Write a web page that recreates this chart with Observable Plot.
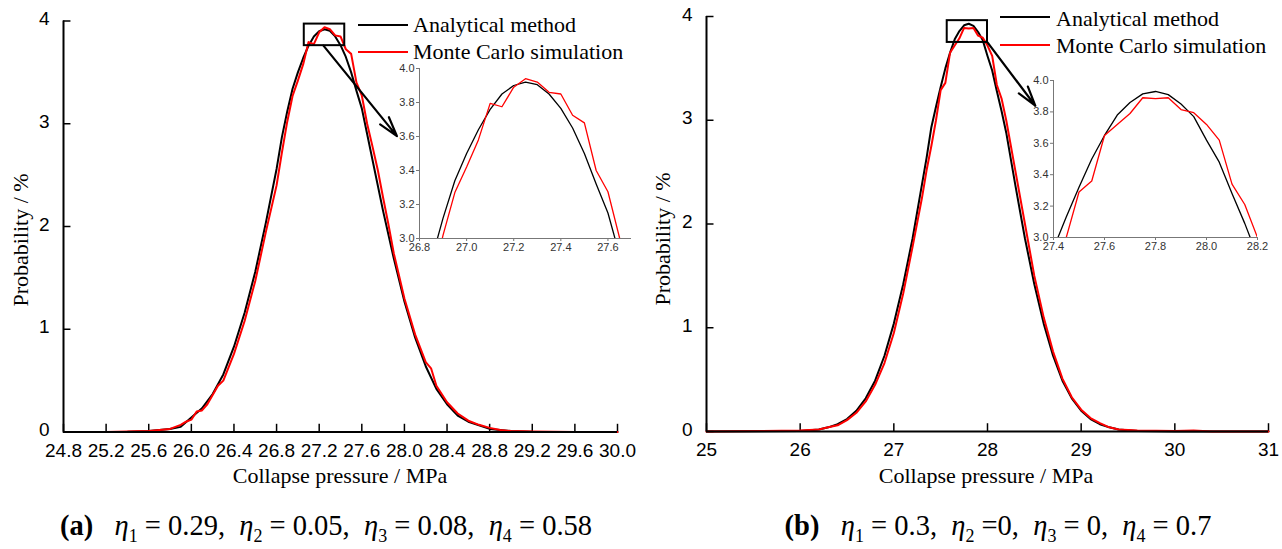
<!DOCTYPE html>
<html><head><meta charset="utf-8">
<script src="https://cdn.jsdelivr.net/npm/d3@7"></script>
<script src="https://cdn.jsdelivr.net/npm/@observablehq/plot@0.6"></script>
<style>
body{margin:0;background:#fff;}
#root{position:relative;width:1282px;height:549px;overflow:hidden;font-family:"Liberation Serif","Times New Roman",serif;color:#000;}
#root svg{position:absolute;overflow:visible;}
.t{position:absolute;white-space:nowrap;line-height:1;}
.leg{font-size:22px;}
.ttl{font-size:22px;}
.cap{font-size:28.5px;}
.cap sub{font-size:18px;vertical-align:-7px;line-height:0;}
.ln{position:absolute;height:2px;}
</style></head><body><div id="root"></div>
<script>
// ---------- DATA ----------
// Panel (a)
const aAnalyticX = [24.8,25.0,25.2,25.4,25.6,25.8,25.9,26.0,26.1,26.2,26.3,26.4,26.5,26.6,26.7,26.8,26.85,26.9,26.95,27.0,27.05,27.1,27.15,27.2,27.25,27.3,27.35,27.4,27.45,27.5,27.55,27.6,27.65,27.7,27.8,27.9,28.0,28.1,28.2,28.3,28.4,28.5,28.6,28.8,29.0,29.2,29.6,30.0];
const aAnalyticY = [0,0,0,0.002,0.01,0.03,0.05,0.14,0.23,0.37,0.56,0.83,1.16,1.56,2.04,2.56,2.87,3.12,3.34,3.50,3.64,3.76,3.85,3.90,3.92,3.905,3.85,3.765,3.65,3.50,3.32,3.15,2.90,2.65,2.15,1.69,1.27,0.92,0.64,0.42,0.27,0.16,0.10,0.03,0.01,0.003,0,0];
const aMonteX = [25.0,25.2,25.4,25.6,25.8,25.9,25.95,26.0,26.05,26.1,26.15,26.2,26.25,26.3,26.4,26.5,26.6,26.7,26.8,26.85,26.9,26.95,27.0,27.05,27.1,27.15,27.2,27.25,27.3,27.35,27.4,27.45,27.5,27.55,27.6,27.65,27.7,27.75,27.8,27.85,27.9,28.0,28.1,28.2,28.25,28.3,28.4,28.5,28.6,28.7,28.8,28.9,29.0,29.2,29.6,30.0];
const aMonteY = [0,0,0.005,0.01,0.03,0.07,0.10,0.12,0.20,0.21,0.27,0.36,0.45,0.50,0.76,1.08,1.47,1.95,2.40,2.72,3.02,3.27,3.42,3.58,3.795,3.775,3.89,3.94,3.92,3.86,3.85,3.725,3.68,3.40,3.275,3.0,2.78,2.55,2.28,2.02,1.74,1.30,0.95,0.68,0.62,0.45,0.29,0.18,0.11,0.07,0.04,0.02,0.01,0.005,0,0];
// Panel (b)
const bAnalyticX = [25.0,26.0,26.2,26.3,26.4,26.5,26.6,26.7,26.8,26.9,27.0,27.1,27.2,27.3,27.35,27.4,27.45,27.5,27.55,27.6,27.65,27.7,27.75,27.8,27.85,27.9,27.95,28.0,28.05,28.1,28.15,28.2,28.3,28.4,28.5,28.6,28.7,28.8,28.9,29.0,29.1,29.2,29.3,29.4,29.6,30.0,31.0];
const bAnalyticY = [0,0.005,0.02,0.04,0.07,0.12,0.20,0.32,0.49,0.73,1.04,1.42,1.86,2.38,2.64,2.93,3.13,3.32,3.50,3.65,3.78,3.86,3.915,3.93,3.91,3.85,3.77,3.62,3.48,3.28,3.09,2.88,2.36,1.86,1.42,1.04,0.73,0.49,0.32,0.20,0.12,0.07,0.04,0.02,0.005,0,0];
const bMonteX = [25.0,25.6,26.0,26.2,26.3,26.4,26.5,26.6,26.7,26.8,26.9,27.0,27.1,27.2,27.3,27.35,27.4,27.45,27.5,27.55,27.6,27.65,27.7,27.75,27.8,27.85,27.9,27.95,28.0,28.05,28.1,28.15,28.2,28.3,28.4,28.5,28.6,28.7,28.8,28.9,29.0,29.1,29.2,29.3,29.4,29.6,30.0,30.2,30.4,31.0];
const bMonteY = [0,0.005,0.01,0.02,0.04,0.06,0.11,0.18,0.29,0.45,0.66,0.95,1.33,1.78,2.25,2.52,2.75,3.0,3.29,3.36,3.65,3.72,3.79,3.89,3.885,3.89,3.815,3.795,3.72,3.62,3.34,3.21,3.0,2.50,2.0,1.50,1.10,0.77,0.51,0.33,0.21,0.13,0.08,0.04,0.02,0.01,0.005,0.01,0,0];

// Axes / ticks
const yTicks = [0,1,2,3,4];
const aXTicks = [24.8,25.2,25.6,26.0,26.4,26.8,27.2,27.6,28.0,28.4,28.8,29.2,29.6,30.0];
const bXTicks = [25,26,27,28,29,30,31];
const aInsetXTicks = [26.8,27.0,27.2,27.4,27.6];
const bInsetXTicks = [27.4,27.6,27.8,28.0,28.2];
const insetYTicks = [3.0,3.2,3.4,3.6,3.8,4.0];
// Zoom boxes and arrows (data units)
const aBox = [{x1:27.06,x2:27.44,y1:3.76,y2:3.97}];
const bBox = [{x1:27.57,x2:28.0,y1:3.75,y2:3.96}];
const aArrow = [{x1:27.24,y1:3.76,x2:27.93,y2:2.88}];
const bArrow = [{x1:28.0,y1:3.75,x2:28.51,y2:3.14}];
// Texts
const seriesNames = ["Analytical method","Monte Carlo simulation"];
const xTitle = "Collapse pressure / MPa";
const yTitle = "Probability / %";

// ---------- BUILD ----------
const root = document.getElementById("root");
const tbl = (xs, ys) => xs.map((x,i)=>({x, y: ys[i]}));

function mainPlot(o){
  const x0 = o.xDomain[0];
  const svg = Plot.plot({
    width:o.width, height:490,
    marginLeft:o.mL, marginRight:o.mR, marginTop:o.mT, marginBottom:o.mB,
    x:{domain:o.xDomain}, y:{domain:[0,4]},
    style:{fontFamily:"'Liberation Sans', Arial, sans-serif", fontSize:"19px", background:"transparent", color:"#000"},
    marks:[
      Plot.axisX(o.xTicks,{tickFormat:o.fmt, tickSize:0, tickPadding:11, fontSize:19, fill:"#000", label:null}),
      Plot.axisY(yTicks,{tickFormat:d=>String(d), tickSize:0, tickPadding:14, dy:-2, fontSize:19, fill:"#000", label:null}),
      Plot.ruleX(o.xTicks,{x:d=>d, y1:0, y2:o.tx, stroke:"#000", strokeWidth:1.5}),
      Plot.ruleY(yTicks,{y:d=>d, x1:x0, x2:x0+o.ty, stroke:"#000", strokeWidth:1.5}),
      Plot.line(o.black,{x:"x", y:"y", stroke:"#000", strokeWidth:2}),
      Plot.line(o.red,{x:"x", y:"y", stroke:"#ff0000", strokeWidth:2}),
      Plot.ruleY([0],{x1:o.xDomain[0], x2:o.xDomain[1], stroke:"#000", strokeWidth:2}),
      Plot.ruleX([x0],{y1:0, y2:4, stroke:"#000", strokeWidth:2}),
      Plot.rect(o.box,{x1:"x1",x2:"x2",y1:"y1",y2:"y2", fill:"none", stroke:"#000", strokeWidth:2}),
      Plot.arrow(o.arrow,{x1:"x1",y1:"y1",x2:"x2",y2:"y2", stroke:"#000", strokeWidth:2.2, headLength:14, headAngle:32})
    ]
  });
  svg.style.left = o.left+"px"; svg.style.top = "0px";
  root.appendChild(svg);
}

function insetPlot(o){
  const svg = Plot.plot({
    width:o.width, height:o.height,
    marginLeft:o.mL, marginRight:o.mR, marginTop:o.mT, marginBottom:o.mB,
    x:{domain:o.xDomain}, y:{domain:[3,4]},
    style:{fontFamily:"'Liberation Sans', Arial, sans-serif", fontSize:"11px", background:"transparent", color:"#333"},
    marks:[
      Plot.axisX(o.xTicks,{tickFormat:d=>d.toFixed(1), tickSize:3, tickPadding:2, stroke:"#777", fill:"#333", label:null}),
      Plot.axisY(insetYTicks,{tickFormat:d=>d.toFixed(1), tickSize:3, tickPadding:2, stroke:"#777", fill:"#333", label:null}),
      Plot.line(o.black,{x:"x", y:"y", stroke:"#000", strokeWidth:1.3, clip:true}),
      Plot.line(o.red,{x:"x", y:"y", stroke:"#ff0000", strokeWidth:1.3, clip:true}),
      Plot.ruleY([3],{x1:o.xDomain[0], x2:o.xDomain[1], stroke:"#777", strokeWidth:1}),
      Plot.ruleX([o.xDomain[0]],{y1:3, y2:4, stroke:"#777", strokeWidth:1})
    ]
  });
  svg.style.left = o.left+"px"; svg.style.top = o.top+"px";
  root.appendChild(svg);
}

const aBlack = tbl(aAnalyticX, aAnalyticY), aRed = tbl(aMonteX, aMonteY);
const bBlack = tbl(bAnalyticX, bAnalyticY), bRed = tbl(bMonteX, bMonteY);

mainPlot({left:0, width:640, mL:63, mR:23, mT:20.5, mB:58.5, xDomain:[24.8,30.0], xTicks:aXTicks, fmt:d=>d.toFixed(1),
  tx:0.075, ty:0.07, black:aBlack, red:aRed, box:aBox, arrow:aArrow});
mainPlot({left:640, width:642, mL:66, mR:14, mT:16, mB:59, xDomain:[25,31], xTicks:bXTicks, fmt:d=>String(d),
  tx:0.075, ty:0.08, black:bBlack, red:bRed, box:bBox, arrow:bArrow});

insetPlot({left:380, top:50, width:260, height:215, mL:39, mR:9, mT:18, mB:27, xDomain:[26.8,27.7], xTicks:aInsetXTicks, black:aBlack, red:aRed});
insetPlot({left:1010, top:60, width:272, height:205, mL:43, mR:25, mT:20, mB:28, xDomain:[27.4,28.2], xTicks:bInsetXTicks, black:bBlack, red:bRed});

function addText(cls, html, left, top, extra){
  const d = document.createElement("div");
  d.className = "t "+cls; d.innerHTML = html;
  d.style.left = left+"px"; d.style.top = top+"px";
  if (extra) Object.assign(d.style, extra);
  root.appendChild(d); return d;
}
function addLine(color, left, top, w){
  const d = document.createElement("div");
  d.className="ln"; d.style.background=color; d.style.left=left+"px"; d.style.top=(top-1)+"px"; d.style.width=w+"px";
  root.appendChild(d);
}
// legends
addLine("#000",358,24.5,50); addLine("#ff0000",358,51.5,50);
addText("leg", seriesNames[0], 413, 14);
addText("leg", seriesNames[1], 413, 41);
addLine("#000",1000,17,50); addLine("#ff0000",1000,44.5,50);
addText("leg", seriesNames[0], 1056, 7.5);
addText("leg", seriesNames[1], 1056, 35);
// axis titles
addText("ttl", xTitle, 340, 465, {transform:"translateX(-50%)"});
addText("ttl", xTitle, 986, 465, {transform:"translateX(-50%)"});
addText("ttl", yTitle, 21, 240, {transform:"translate(-50%,-50%) rotate(-90deg)"});
addText("ttl", yTitle, 663, 239, {transform:"translate(-50%,-50%) rotate(-90deg)"});
// captions
const eta = (i,v) => `<i>&eta;</i><sub>${i}</sub> ${v}`;
const sep = "&nbsp;&nbsp;";
addText("cap", `<b>(a)</b>${sep} ${eta(1,"= 0.29,")}${sep}${eta(2,"= 0.05,")}${sep}${eta(3,"= 0.08,")}${sep}${eta(4,"= 0.58")}`, 326, 512, {transform:"translateX(-50%)"});
addText("cap", `<b>(b)</b>${sep} ${eta(1,"= 0.3,")}${sep}${eta(2,"=0,")}${sep}${eta(3,"= 0,")}${sep}${eta(4,"= 0.7")}`, 998, 512, {transform:"translateX(-50%)"});
</script></body></html>
